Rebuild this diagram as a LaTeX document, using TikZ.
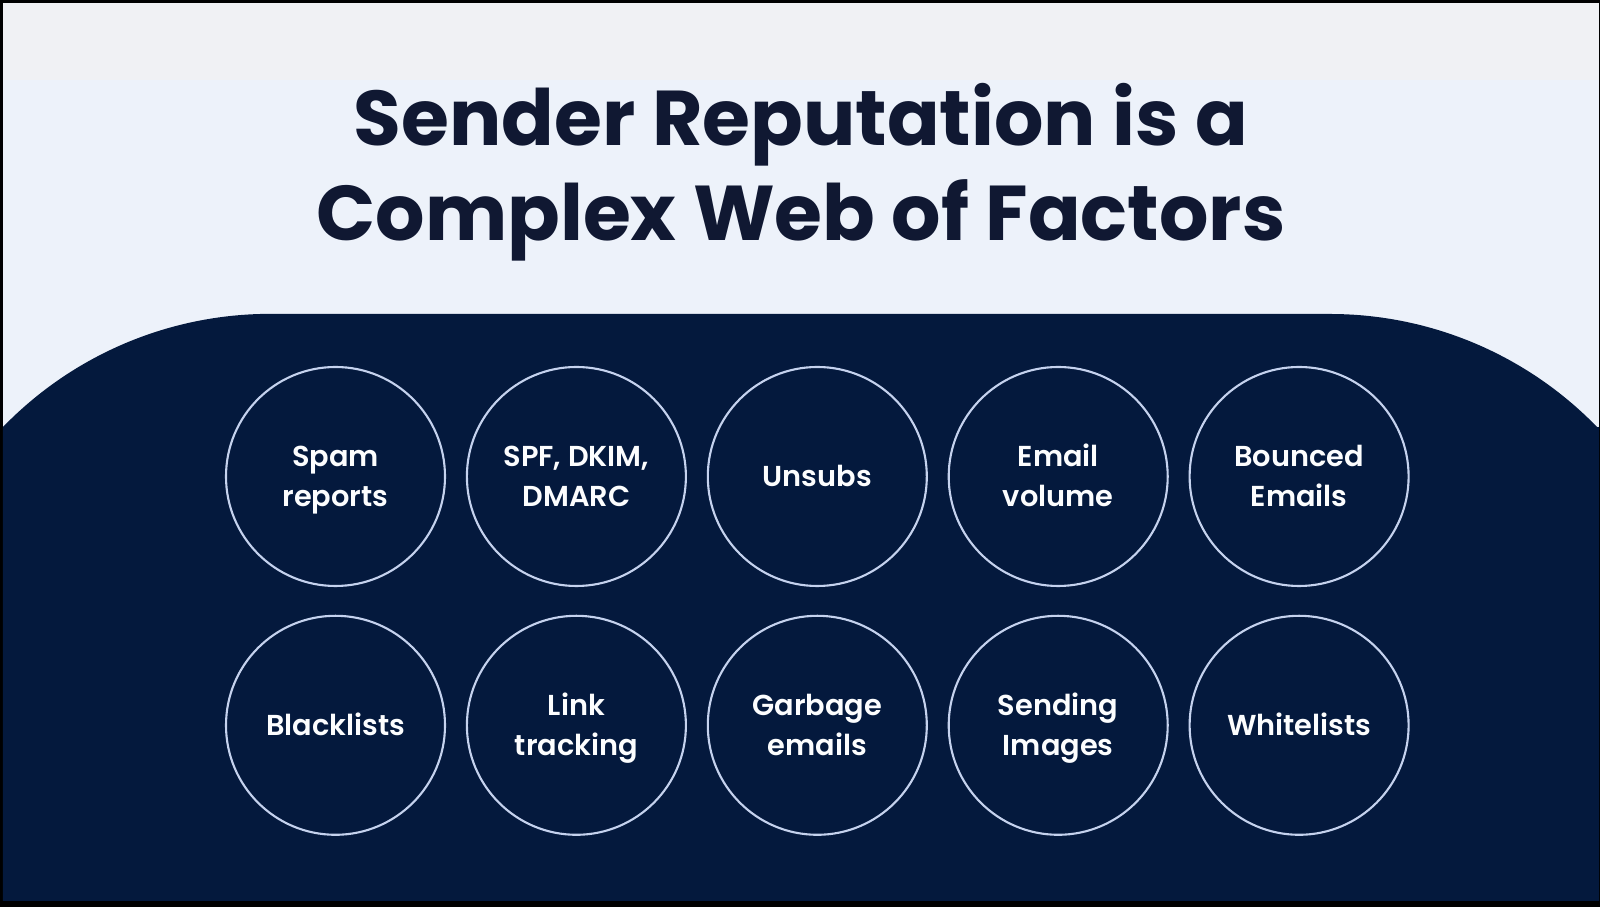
\documentclass[tikz,border=0pt]{standalone}
\usepackage{fontspec}
\setmainfont{Poppins}[BoldFont=Poppins Bold]
\newfontfamily\factorfont{Poppins SemiBold}
\usetikzlibrary{positioning}

\definecolor{navy}{RGB}{4,25,61}
\definecolor{titleink}{RGB}{16,24,50}
\definecolor{ringline}{RGB}{197,210,238}
\definecolor{paper}{RGB}{237,242,250}
\definecolor{paperband}{RGB}{240,241,244}

% struts so every label sits at the same height
\newcommand{\ftop}{\rule{0pt}{0.97em}}
\newcommand{\fbot}{\rule[-0.27em]{0pt}{0pt}}

\begin{document}
\begin{tikzpicture}[auto,
    factor/.style ={circle, draw=ringline, line width=0.6pt, minimum size=2.19cm, inner sep=0pt, align=center, text=white!95!ringline, font=\factorfont\fontsize{8.2}{11.4}\selectfont},
    heading/.style ={anchor=base, text=titleink, font=\bfseries\fontsize{22.1}{26}\selectfont}]
   \useasboundingbox (0,0) rectangle (16,9.07);
   % slide and its dark lower panel
   \fill[black] (0,0) rectangle (16,9.07);
   \fill[paper] (0.03,0.06) rectangle (15.99,9.04);
   \fill[paperband] (0.03,8.27) rectangle (15.99,9.04);
   \fill[navy] (0.03,0.06) -- (0.03,4.80) arc[start angle=135.9, end angle=90, radius=3.72]
      -- (13.30,5.93) arc[start angle=90, end angle=44.1, radius=3.72]
      -- (15.99,4.80) -- (15.99,0.06) -- cycle;
   \node[heading] (title1) at (8.01,7.61) {Sender Reputation is a};
   \node[heading] (title2) at (8.01,6.66) {Complex Web of Factors};
   % first row
   \node[factor] (spam) at (3.355,4.305) {\ftop Spam\\reports\fbot};
   \node[factor] (auth) at (5.764,4.305) {\ftop SPF, DKIM,\\DMARC\fbot};
   \node[factor] (unsubs) at (8.173,4.305) {\ftop Unsubs\fbot};
   \node[factor] (volume) at (10.582,4.305) {\ftop Email\\volume\fbot};
   \node[factor] (bounced) at (12.991,4.305) {\ftop Bounced\\Emails\fbot};
   % second row
   \node[factor] (black) at (3.355,1.817) {\ftop Blacklists\fbot};
   \node[factor] (links) at (5.764,1.817) {\ftop Link\\tracking\fbot};
   \node[factor] (garbage) at (8.173,1.817) {\ftop Garbage\\emails\fbot};
   \node[factor] (images) at (10.582,1.817) {\ftop Sending\\Images\fbot};
   \node[factor] (white) at (12.991,1.817) {\ftop Whitelists\fbot};
 \end{tikzpicture}
\end{document}
